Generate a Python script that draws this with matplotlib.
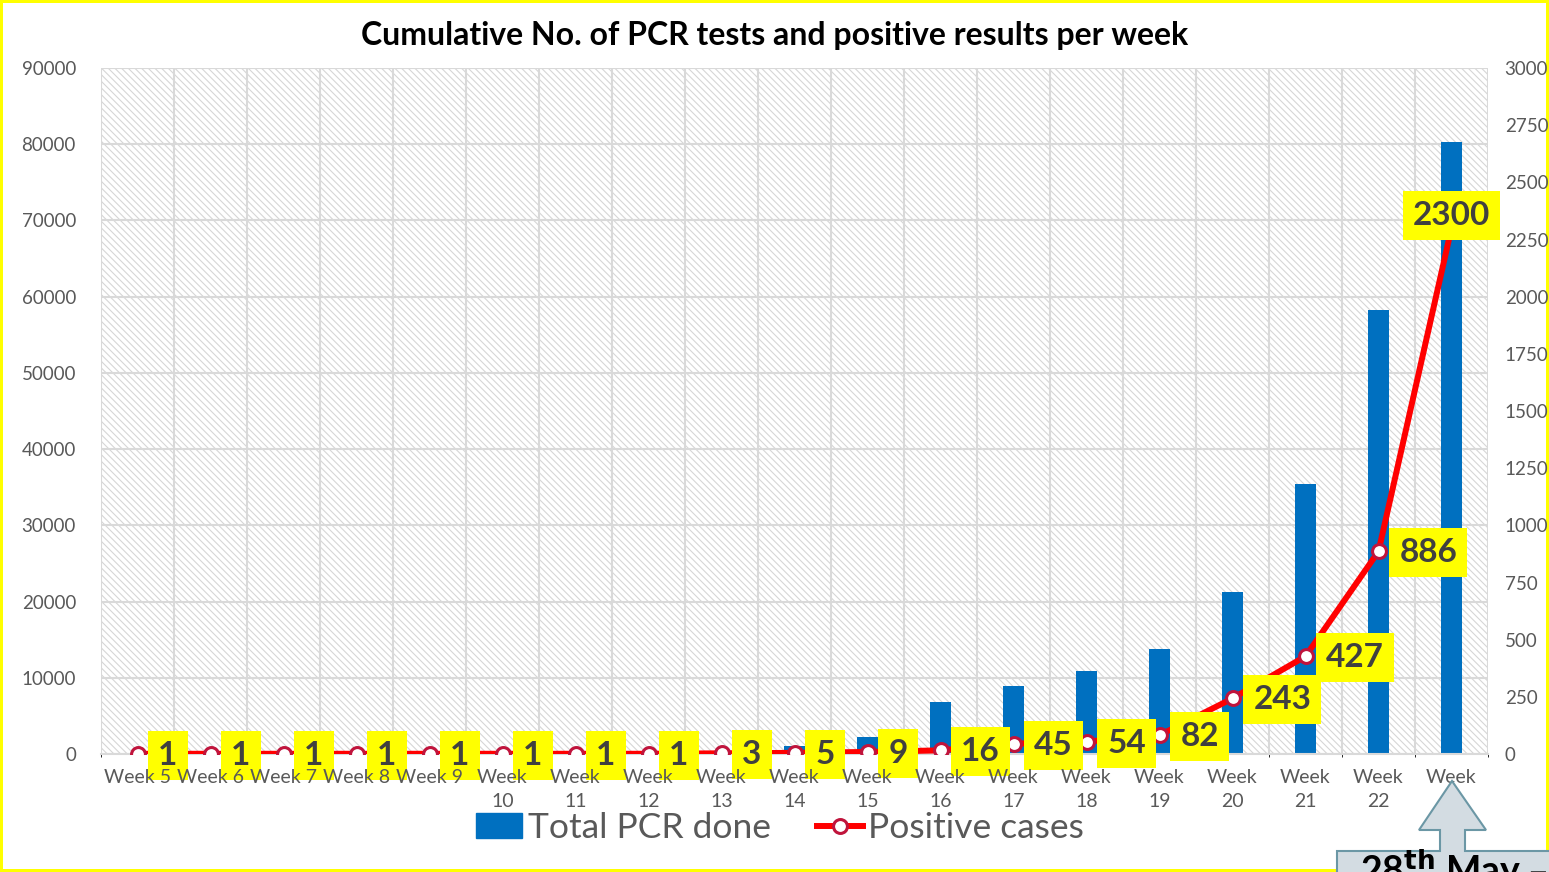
import matplotlib.pyplot as plt
import matplotlib.patches as mpatches
from matplotlib.lines import Line2D

weeks = ["Week 5", "Week 6", "Week 7", "Week 8", "Week 9", "Week\n10", "Week\n11",
         "Week\n12", "Week\n13", "Week\n14", "Week\n15", "Week\n16", "Week\n17",
         "Week\n18", "Week\n19", "Week\n20", "Week\n21", "Week\n22", "Week\n23"]
total_pcr = [0, 0, 0, 0, 0, 0, 0, 0, 450, 1050, 2250, 6850, 8950,
             10900, 13800, 21300, 35450, 58250, 80300]
positive = [1, 1, 1, 1, 1, 1, 1, 1, 3, 5, 9, 16, 45, 54, 82, 243, 427, 886, 2300]

BLUE = "#0070c0"
RED = "#ff0000"
MARKER_EDGE = "#c0143c"
TEXT = "#595959"

plt.rcParams["font.family"] = ["Lato", "DejaVu Sans"]
plt.rcParams["hatch.linewidth"] = 0.8

fig = plt.figure(figsize=(15.49, 8.72), dpi=100)
fig.patch.set_edgecolor("#ffff00")
fig.patch.set_linewidth(3)

W, H = 1549, 872
ax = fig.add_axes([101 / W, 1 - 754 / H, (1488 - 101) / W, (754 - 68) / H])
ax2 = ax.twinx()

x = list(range(len(weeks)))

# hatched plot area
ax.patch.set_facecolor("white")
ax.add_patch(mpatches.Rectangle((0, 0), 1, 1, transform=ax.transAxes,
                                facecolor="none", edgecolor="#d6d6d6",
                                hatch="\\\\\\\\\\", linewidth=0, zorder=0))

ax.bar(x, total_pcr, width=0.3, color=BLUE, zorder=2)
ax.set_xlim(-0.5, len(weeks) - 0.5)
ax.set_ylim(0, 90000)
ax.set_yticks(range(0, 90001, 10000))
ax.set_xticks(x)
ax.set_xticks([i + 0.5 for i in range(-1, len(weeks))], minor=True)
ax.grid(True, axis="y", color="#d9d9d9", linewidth=1.5, zorder=1)
ax.grid(True, axis="x", which="minor", color="#d9d9d9", linewidth=1.5, zorder=1)
ax.set_axisbelow(True)

# week labels go on the twin so they sit above the yellow value boxes
ax2.xaxis.set_visible(True)
ax2.xaxis.set_zorder(5)
ax2.set_xticklabels(weeks, linespacing=1.45)
ax.tick_params(axis="x", labelbottom=False)

ax2.plot(x, positive, color=RED, linewidth=4.3, marker="o", markersize=10,
         markerfacecolor="white", markeredgecolor=MARKER_EDGE,
         markeredgewidth=2.2, zorder=1)
ax2.set_ylim(0, 3000)
ax2.set_yticks(range(0, 3001, 250))

for a in (ax, ax2):
    for s in a.spines.values():
        s.set_visible(False)
    a.tick_params(length=0, labelsize=13.5, labelcolor=TEXT)
ax.tick_params(axis="y", pad=18)
ax2.tick_params(axis="y", pad=12)
ax2.tick_params(axis="x", which="major", pad=11, labelsize=14, labelbottom=True)
ax2.tick_params(axis="x", which="minor", length=0)
ax.spines["bottom"].set_visible(True)
ax.spines["bottom"].set_color("#d9d9d9")
ax.spines["bottom"].set_linewidth(1.5)

for i, v in enumerate(positive):
    if i == len(positive) - 1:
        off, ha = (0, 9), "center"
    else:
        off, ha = (15, -1), "left"
    ax2.annotate(str(v), (i, v), xytext=off, textcoords="offset points",
                 ha=ha, va="center", fontsize=24, fontweight="bold",
                 color="#404040", zorder=2,
                 bbox=dict(boxstyle="square,pad=0.3", facecolor="#ffff00",
                           edgecolor="none"))

fig.text(0.5, 1 - 35 / H, "Cumulative No. of PCR tests and positive results per week",
         ha="center", va="center", fontsize=23, fontweight="bold", color="black")

handles = [mpatches.Patch(color=BLUE, label="Total PCR done"),
           Line2D([0], [0], color=RED, linewidth=4.3, marker="o", markersize=10,
                  markerfacecolor="white", markeredgecolor=MARKER_EDGE,
                  markeredgewidth=2.2, label="Positive cases")]
leg = fig.legend(handles=handles, loc="center", bbox_to_anchor=(780 / W, 1 - 828 / H),
                 ncol=2, frameon=False, fontsize=25.5, handlelength=1.3,
                 handletextpad=0.15, columnspacing=1.3)
for t in leg.get_texts():
    t.set_color(TEXT)


# arrow callout pointing at the last week
def px(xp, yp):
    return (xp / W, 1 - yp / H)


arrow_pts = [px(1452, 781), px(1486, 830), px(1465, 830), px(1465, 851),
             px(1560, 851), px(1560, 880), px(1337, 880), px(1337, 851),
             px(1440, 851), px(1440, 830), px(1419, 830)]
fig.patches.append(mpatches.Polygon(arrow_pts, closed=True, transform=fig.transFigure,
                                    facecolor="#d3dce2", edgecolor="#6b97a5",
                                    linewidth=1.5, zorder=10))
fig.text(1360 / W, 1 - 870 / H, r"28$^{\mathbf{th}}$ May –", ha="left", va="center",
         fontsize=27, fontweight="bold", color="black", zorder=11)

fig.savefig("out.png", dpi=100)
